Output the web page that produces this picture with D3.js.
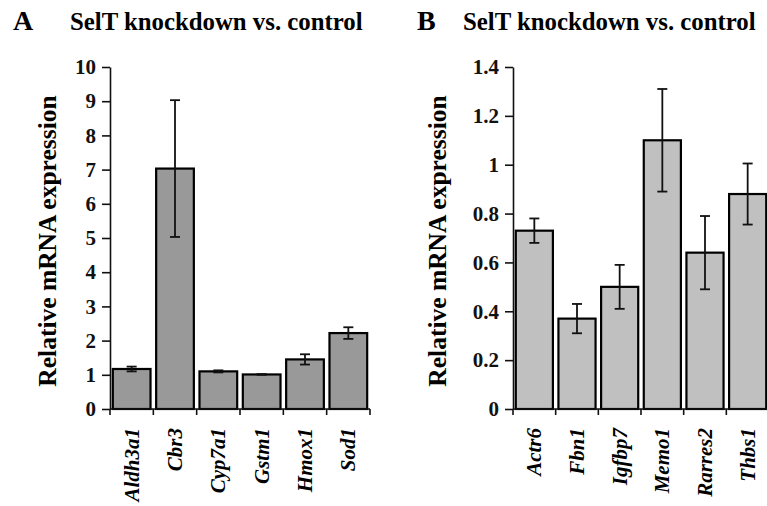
<!DOCTYPE html>
<html>
	<head>
		<meta charset="UTF-8">
		<title>SelT knockdown vs. control</title>
		<script src="https://cdn.jsdelivr.net/npm/d3@7"></script>
		<style>
			body { margin: 0; background: #fff; }
			svg text { font-family: "Liberation Serif", "Times New Roman", Times, "DejaVu Serif", serif !important; font-weight: bold; }
		</style>
	</head>
	<body>
		<div id="chart"></div>
		<script>
			// panel A
			const genesA = ["Aldh3a1", "Cbr3", "Cyp7a1", "Gstm1", "Hmox1", "Sod1"];
			const valuesA = [1.17, 7.03, 1.10, 1.01, 1.45, 2.22];
			const errorsA = [0.07, 2.0, 0.03, 0.01, 0.15, 0.17];
			const ticksA = [0, 1, 2, 3, 4, 5, 6, 7, 8, 9, 10];

			// panel B
			const genesB = ["Actr6", "Fbn1", "Igfbp7", "Memo1", "Rarres2", "Thbs1"];
			const valuesB = [0.73, 0.37, 0.50, 1.10, 0.64, 0.88];
			const errorsB = [0.05, 0.06, 0.09, 0.21, 0.15, 0.125];
			const ticksB = [0, 0.2, 0.4, 0.6, 0.8, 1, 1.2, 1.4];

			const title = "SelT knockdown vs. control";
			const yTitle = "Relative mRNA expression";

			const w = 767;
			const h = 506;

			const svg = d3.select("#chart")
						  .append("svg")
						  .attr("width", w)
						  .attr("height", h);

			const drawPanel = (opts) => {
				const { letter, letterX, titleX, axisX, axisRight, yTitleX, genes, values, errors, ticks, yMax, fill } = opts;
				const top = 67;
				const bottom = 409;

				const xScale = d3.scaleBand()
								 .domain(genes)
								 .range([axisX, axisRight])
								 .paddingInner(0.13)
								 .paddingOuter(0.065);

				const yScale = d3.scaleLinear()
								 .domain([0, yMax])
								 .range([bottom, top]);

				svg.append("text")
				   .text(letter)
				   .attr("x", letterX)
				   .attr("y", 30)
				   .style("font-size", "28px");

				svg.append("text")
				   .text(title)
				   .attr("x", titleX)
				   .attr("y", 30)
				   .style("font-size", "24.8px");

				svg.append("text")
				   .text(yTitle)
				   .attr("text-anchor", "middle")
				   .style("font-size", "25.5px")
				   .attr("transform", `translate(${yTitleX}, 241) rotate(-90)`);

				svg.selectAll(null)
				   .data(genes)
				   .enter()
				   .append("rect")
				   .attr("x", d => xScale(d))
				   .attr("y", (d, i) => yScale(values[i]))
				   .attr("width", xScale.bandwidth())
				   .attr("height", (d, i) => bottom - yScale(values[i]))
				   .attr("fill", fill)
				   .attr("stroke", "#000")
				   .attr("stroke-width", 2.2);

				const cap = 5;
				const errG = svg.append("g")
								.attr("stroke", "#111")
								.attr("stroke-width", 1.8);
				genes.forEach((g, i) => {
					const cx = xScale(g) + xScale.bandwidth() / 2;
					const y1 = yScale(values[i] + errors[i]);
					const y2 = yScale(values[i] - errors[i]);
					errG.append("line").attr("x1", cx).attr("x2", cx).attr("y1", y1).attr("y2", y2);
					errG.append("line").attr("x1", cx - cap).attr("x2", cx + cap).attr("y1", y1).attr("y2", y1);
					errG.append("line").attr("x1", cx - cap).attr("x2", cx + cap).attr("y1", y2).attr("y2", y2);
				});

				const yAxis = d3.axisLeft(yScale)
								.tickValues(ticks)
								.tickFormat(d3.format("~g"))
								.tickSize(8)
								.tickPadding(6)
								.tickSizeOuter(0);
				const yg = svg.append("g")
							  .attr("transform", `translate(${axisX}, 0)`)
							  .call(yAxis);
				yg.attr("font-family", null).attr("font-size", null);
				yg.selectAll("path, line").attr("stroke", "#111").attr("stroke-width", 1.6);
				yg.selectAll("text")
				  .style("font-size", "21px")
				  .attr("fill", "#111");

				// x axis line with ticks on category boundaries
				const xg = svg.append("g").attr("stroke", "#111").attr("stroke-width", 1.6);
				xg.append("line")
				  .attr("x1", axisX).attr("x2", axisRight)
				  .attr("y1", bottom).attr("y2", bottom);
				const step = xScale.step();
				const bounds = genes.map(g => xScale(g) - step * xScale.paddingInner() / 2);
				bounds.push(axisRight);
				xg.selectAll(null)
				  .data(bounds)
				  .enter()
				  .append("line")
				  .attr("x1", d => d).attr("x2", d => d)
				  .attr("y1", bottom).attr("y2", bottom + 6);

				svg.selectAll(null)
				   .data(genes)
				   .enter()
				   .append("text")
				   .text(d => d)
				   .attr("text-anchor", "end")
				   .attr("dy", "0.33em")
				   .style("font-size", "21px")
				   .style("font-style", "italic")
				   .attr("transform", d => `translate(${xScale(d) + xScale.bandwidth() / 2}, 428) rotate(-90)`);
			};

			drawPanel({
				letter: "A", letterX: 13, titleX: 70, axisX: 110, axisRight: 370, yTitleX: 56,
				genes: genesA, values: valuesA, errors: errorsA, ticks: ticksA, yMax: 10, fill: "#999999"
			});

			drawPanel({
				letter: "B", letterX: 417, titleX: 463, axisX: 513, axisRight: 769, yTitleX: 446,
				genes: genesB, values: valuesB, errors: errorsB, ticks: ticksB, yMax: 1.4, fill: "#c0c0c0"
			});
		</script>
	</body>
</html>
